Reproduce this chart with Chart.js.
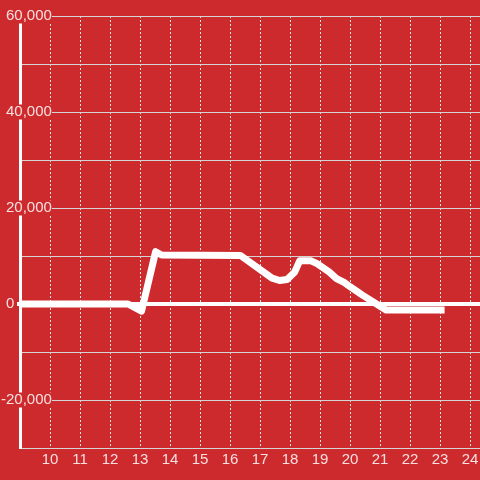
<!DOCTYPE html>
<html><head><meta charset="utf-8">
<script src="https://cdn.jsdelivr.net/npm/chart.js@4"></script>
<style>html,body{margin:0;padding:0;background:#cd2a2e;} canvas{display:block;}</style>
</head><body>
<canvas id="c" width="480" height="480"></canvas>
<script>
const hours  = [9, 12.6, 13.05, 13.52, 13.72, 16.35, 17.4, 17.65, 17.9, 18.15, 18.32, 18.7, 18.9, 19.3, 19.55, 19.8, 20.0, 20.4, 21.2, 23.15];
const values = [0, 0, -1500, 10900, 10200, 10100, 5400, 4900, 5100, 6600, 9000, 9000, 8400, 6700, 5300, 4500, 3600, 1900, -1250, -1250];
const xTickValues = [10, 11, 12, 13, 14, 15, 16, 17, 18, 19, 20, 21, 22, 23, 24];
const xMin = 9, xMax = 24.33;
const yMin = -30000, yMax = 60000, yStep = 10000, yLabelStep = 20000;

const BG = '#cd2a2e';
const LABEL = 'rgba(255,255,255,0.85)';
const FONT = 'Liberation Sans, Arial, sans-serif';

new Chart(document.getElementById('c'), {
  type: 'line',
  data: {
    datasets: [{
      data: hours.map((h, i) => ({x: h, y: values[i]})),
      borderColor: '#ffffff',
      borderWidth: 7,
      borderJoinStyle: 'round',
      pointRadius: 0,
      tension: 0,
      fill: false
    }]
  },
  options: {
    responsive: false,
    devicePixelRatio: 1,
    animation: false,
    layout: {padding: {top: 16, left: 0, right: 0, bottom: 0}},
    plugins: {legend: {display: false}, tooltip: {enabled: false}},
    scales: {
      x: {
        type: 'linear', min: xMin, max: xMax,
        afterBuildTicks: s => { s.ticks = xTickValues.map(v => ({value: v})); },
        afterFit: s => { s.height = 32; s.paddingLeft = 0; s.paddingRight = 0; },
        ticks: {color: LABEL, font: {family: FONT, size: 15, lineHeight: 1.2}, padding: 3, maxRotation: 0, autoSkip: false},
        grid: {color: '#e6e6e6', lineWidth: 1, drawTicks: false},
        border: {display: true, color: '#d4d4d4', width: 1, dash: [2, 2]}
      },
      y: {
        min: yMin, max: yMax,
        afterFit: s => { s.width = 20; s.paddingTop = 0; s.paddingBottom = 0; },
        ticks: {
          stepSize: yStep,
          color: LABEL,
          font: {family: FONT, size: 15, lineHeight: 1},
          mirror: true,
          crossAlign: 'far',
          padding: -19,
          showLabelBackdrop: true,
          backdropPadding: 0,
          backdropColor: ctx => (ctx.tick && ctx.tick.value === 0) ? 'rgba(0,0,0,0)' : BG,
          callback: v => {
            if (v % yLabelStep !== 0) return '';
            if (v === 0) return '0' + ' '.repeat(9);
            return v.toLocaleString('en-US');
          }
        },
        grid: {
          color: ctx => (ctx.tick && ctx.tick.value === 0) ? '#ffffff' : '#d4d4d4',
          lineWidth: ctx => (ctx.tick && ctx.tick.value === 0) ? 4 : 1,
          drawTicks: true,
          tickLength: 3,
          tickColor: ctx => (ctx.tick && ctx.tick.value === 0) ? '#ffffff' : 'rgba(0,0,0,0)'
        },
        border: {display: true, color: '#ffffff', width: 3}
      }
    }
  }
});
</script>
</body></html>
